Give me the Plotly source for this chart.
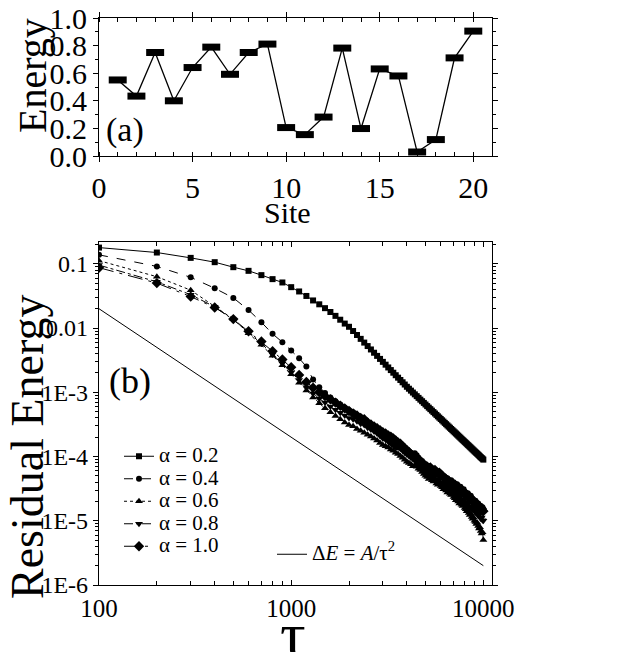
import plotly.graph_objects as go

# ---------------- data ----------------
sites = list(range(1, 21))
site_energy = [0.551, 0.434, 0.750, 0.400, 0.641, 0.789, 0.592, 0.750, 0.811, 0.206,
               0.155, 0.282, 0.782, 0.199, 0.631, 0.580, 0.029, 0.119, 0.711, 0.905]

tau = list(range(100, 10001, 100))

# log10 of residual energy at tau = 100, 200, ..., 10000
log_res_a02 = [
    -0.747, -0.824, -0.907, -0.974, -1.052, -1.109, -1.176, -1.238, -1.290, -1.363,
    -1.430, -1.500, -1.570, -1.630, -1.690, -1.750, -1.810, -1.870, -1.930, -1.980,
    -2.046, -2.108, -2.168, -2.226, -2.280, -2.333, -2.384, -2.433, -2.480, -2.526,
    -2.570, -2.613, -2.654, -2.695, -2.734, -2.772, -2.808, -2.844, -2.879, -2.914,
    -2.944, -2.974, -3.004, -3.032, -3.060, -3.087, -3.114, -3.139, -3.165, -3.190,
    -3.215, -3.239, -3.262, -3.285, -3.308, -3.330, -3.352, -3.374, -3.395, -3.416,
    -3.436, -3.456, -3.476, -3.496, -3.515, -3.534, -3.552, -3.571, -3.589, -3.607,
    -3.624, -3.641, -3.658, -3.675, -3.692, -3.708, -3.725, -3.741, -3.756, -3.772,
    -3.787, -3.802, -3.818, -3.832, -3.847, -3.861, -3.876, -3.890, -3.904, -3.918,
    -3.931, -3.945, -3.958, -3.971, -3.984, -3.998, -4.010, -4.023, -4.035, -4.048]

log_res_a04 = [
    -0.86, -1.04, -1.21, -1.38, -1.53, -1.72, -1.91, -2.09, -2.22, -2.35,
    -2.47, -2.60, -2.80, -2.92, -3.01, -3.08, -3.14, -3.19, -3.24, -3.28,
    -3.31, -3.36, -3.39, -3.44, -3.47, -3.52, -3.54, -3.59, -3.62, -3.66,
    -3.70, -3.74, -3.79, -3.82, -3.85, -3.86, -3.85, -3.87, -3.90, -3.92,
    -3.93, -3.94, -3.96, -3.95, -3.98, -4.02, -4.05, -4.07, -4.10, -4.12,
    -4.14, -4.15, -4.19, -4.20, -4.22, -4.21, -4.25, -4.27, -4.28, -4.30,
    -4.31, -4.30, -4.33, -4.35, -4.34, -4.37, -4.38, -4.37, -4.40, -4.40,
    -4.42, -4.44, -4.43, -4.46, -4.48, -4.47, -4.50, -4.52, -4.51, -4.55,
    -4.56, -4.58, -4.57, -4.60, -4.62, -4.61, -4.65, -4.66, -4.68, -4.70,
    -4.69, -4.72, -4.74, -4.73, -4.76, -4.78, -4.77, -4.80, -4.79, -4.82]

log_res_a06 = [
    -0.95, -1.20, -1.41, -1.66, -1.86, -2.08, -2.26, -2.43, -2.58, -2.72,
    -2.85, -2.97, -3.08, -3.17, -3.25, -3.31, -3.37, -3.42, -3.47, -3.51,
    -3.53, -3.57, -3.60, -3.63, -3.66, -3.69, -3.72, -3.75, -3.79, -3.82,
    -3.84, -3.86, -3.89, -3.91, -3.94, -3.96, -3.99, -4.02, -4.05, -4.08,
    -4.10, -4.12, -4.15, -4.14, -4.16, -4.19, -4.21, -4.24, -4.27, -4.30,
    -4.32, -4.35, -4.33, -4.37, -4.39, -4.38, -4.42, -4.44, -4.43, -4.46,
    -4.48, -4.51, -4.49, -4.53, -4.56, -4.54, -4.58, -4.60, -4.59, -4.63,
    -4.65, -4.68, -4.66, -4.70, -4.73, -4.71, -4.75, -4.77, -4.76, -4.80,
    -4.82, -4.85, -4.83, -4.88, -4.91, -4.89, -4.94, -4.97, -4.95, -5.00,
    -5.02, -5.05, -5.03, -5.08, -5.12, -5.10, -5.16, -5.20, -5.18, -5.30]

log_res_a08 = [
    -1.02, -1.28, -1.48, -1.67, -1.87, -2.07, -2.24, -2.41, -2.55, -2.69,
    -2.81, -2.92, -3.02, -3.10, -3.16, -3.22, -3.27, -3.32, -3.36, -3.40,
    -3.42, -3.45, -3.49, -3.51, -3.55, -3.58, -3.61, -3.64, -3.68, -3.72,
    -3.74, -3.77, -3.78, -3.80, -3.83, -3.85, -3.88, -3.91, -3.94, -3.97,
    -3.99, -4.02, -4.04, -4.06, -4.10, -4.12, -4.14, -4.17, -4.19, -4.22,
    -4.24, -4.27, -4.26, -4.30, -4.32, -4.31, -4.35, -4.37, -4.36, -4.40,
    -4.42, -4.44, -4.43, -4.47, -4.49, -4.48, -4.51, -4.53, -4.52, -4.55,
    -4.57, -4.59, -4.58, -4.62, -4.64, -4.63, -4.67, -4.69, -4.68, -4.72,
    -4.73, -4.75, -4.74, -4.77, -4.79, -4.78, -4.81, -4.83, -4.82, -4.85,
    -4.87, -4.86, -4.89, -4.92, -4.90, -4.94, -4.97, -4.95, -4.99, -5.00]

log_res_a10 = [
    -1.06, -1.30, -1.51, -1.68, -1.86, -2.05, -2.21, -2.36, -2.49, -2.61,
    -2.73, -2.84, -2.93, -3.00, -3.06, -3.11, -3.16, -3.21, -3.25, -3.29,
    -3.33, -3.36, -3.40, -3.42, -3.47, -3.50, -3.53, -3.56, -3.59, -3.62,
    -3.64, -3.67, -3.69, -3.72, -3.75, -3.78, -3.80, -3.84, -3.87, -3.90,
    -3.93, -3.97, -3.99, -4.02, -4.05, -4.07, -4.09, -4.11, -4.13, -4.15,
    -4.16, -4.18, -4.17, -4.20, -4.22, -4.21, -4.24, -4.26, -4.25, -4.28,
    -4.30, -4.32, -4.34, -4.35, -4.37, -4.39, -4.40, -4.42, -4.43, -4.45,
    -4.46, -4.48, -4.47, -4.50, -4.52, -4.51, -4.54, -4.56, -4.55, -4.58,
    -4.60, -4.61, -4.63, -4.62, -4.65, -4.67, -4.66, -4.69, -4.70, -4.72,
    -4.74, -4.73, -4.76, -4.78, -4.77, -4.80, -4.82, -4.81, -4.84, -4.85]

fit_tau = [100, 10000]
fit_energy = [2e-2, 2e-6]

alpha_labels = ["α = 0.2", "α = 0.4", "α = 0.6", "α = 0.8", "α = 1.0"]
y_tick_vals = [1e-6, 1e-5, 1e-4, 1e-3, 1e-2, 1e-1]
y_tick_text = ["1E-6", "1E-5", "1E-4", "1E-3", "0.01", "0.1"]

# ---------------- layout helpers ----------------
# page body has an 8px margin, so the figure is drawn 8px right/down
OFF = 8
W, H = 613, 644
ML, MT = 99 - OFF, 18 - OFF
PW, PH = 393, 567
MR, MB = W - ML - PW, H - MT - PH


def px_x(sx):
    """screen x pixel -> paper x"""
    return (sx - OFF - ML) / PW


def px_y(sy):
    """screen y pixel -> paper y"""
    return (MT + PH - (sy - OFF)) / PH


FONT = "Liberation Serif"
top_dom = [px_y(156), px_y(18)]
bot_dom = [px_y(585), px_y(242)]

fig = go.Figure()

# ---- panel (a)
fig.add_trace(go.Scatter(x=sites, y=site_energy, mode="lines",
                         line=dict(color="black", width=1.3),
                         xaxis="x", yaxis="y", showlegend=False, hoverinfo="skip"))
half = 0.48
bx, by = [], []
for s, e in zip(sites, site_energy):
    bx += [s - half, s + half, None]
    by += [e, e, None]
fig.add_trace(go.Scatter(x=bx, y=by, mode="lines",
                         line=dict(color="black", width=7),
                         xaxis="x", yaxis="y", showlegend=False, hoverinfo="skip"))

# ---- panel (b)
series = [log_res_a02, log_res_a04, log_res_a06, log_res_a08, log_res_a10]
dashes = ["solid", "dash", "dot", "dashdot", "longdashdot"]
symbols = ["square", "circle", "triangle-up", "triangle-down", "diamond"]
sizes = [6, 6, 7, 7, 8]
for lab, s, d, sym, sz in zip(alpha_labels, series, dashes, symbols, sizes):
    fig.add_trace(go.Scatter(
        x=tau, y=[10 ** v for v in s], mode="lines+markers",
        name="<span style='font-size:21px'>" + lab + "</span>",
        line=dict(color="black", width=1, dash=d),
        marker=dict(color="black", symbol=sym, size=sz),
        xaxis="x2", yaxis="y2", legend="legend"))

fig.add_trace(go.Scatter(
    x=fit_tau, y=fit_energy, mode="lines",
    name="<span style='font-size:21px'>Δ<i>E</i> = <i>A</i>/τ<sup>2</sup></span>",
    line=dict(color="black", width=1), xaxis="x2", yaxis="y2", legend="legend2"))

axis_common = dict(showline=True, linecolor="black", linewidth=1.2, mirror="ticks",
                   ticks="outside", ticklen=5, tickwidth=1, tickcolor="black",
                   showgrid=False, zeroline=False, ticklabeloverflow="allow",
                   automargin=False)

fig.update_layout(
    width=W, height=H, margin=dict(l=ML, r=MR, t=MT, b=MB, autoexpand=False),
    paper_bgcolor="white", plot_bgcolor="white",
    font=dict(family=FONT, color="black"),
    xaxis=dict(**axis_common, domain=[0, 1], anchor="y", range=[0, 21],
               tickmode="array", tickvals=[0, 5, 10, 15, 20],
               tickfont=dict(size=30, family=FONT), ticklabelstandoff=0,
               minor=dict(dtick=1, ticks="inside", ticklen=4, tickcolor="black", showgrid=False)),
    yaxis=dict(**axis_common, domain=top_dom, anchor="x", range=[0, 1.0],
               tickmode="array", tickvals=[0, 0.2, 0.4, 0.6, 0.8, 1.0],
               ticktext=["0.0", "0.2", "0.4", "0.6", "0.8", "1.0"],
               tickfont=dict(size=30, family=FONT),
               minor=dict(dtick=0.1, ticks="outside", ticklen=3, tickcolor="black", showgrid=False)),
    xaxis2=dict(**{**axis_common, "ticks": "inside"}, domain=[0, 1], anchor="y2", type="log",
                range=[2, 4.045], tickmode="array", tickvals=[100, 1000, 10000],
                ticktext=["100", "1000", "10000"],
                tickfont=dict(size=25, family=FONT), ticklabelstandoff=1,
                minor=dict(ticks="inside", ticklen=4, tickcolor="black", dtick="D1",
                           showgrid=False)),
    yaxis2=dict(**axis_common, domain=bot_dom, anchor="x2", type="log",
                range=[-6, -0.66], tickmode="array", tickvals=y_tick_vals,
                ticktext=y_tick_text, tickfont=dict(size=24, family=FONT),
                minor=dict(ticks="outside", ticklen=3, tickcolor="black", dtick="D1",
                           showgrid=False)),
    legend=dict(x=px_x(119), y=px_y(440), xanchor="left", yanchor="top",
                bgcolor="rgba(0,0,0,0)", font=dict(size=15, family=FONT),
                itemwidth=30, tracegroupgap=0),
    legend2=dict(x=px_x(272), y=px_y(538), xanchor="left", yanchor="top",
                 bgcolor="rgba(0,0,0,0)", font=dict(size=15, family=FONT),
                 itemwidth=30),
)

ann = [
    dict(text="(a)", x=px_x(104), y=px_y(130), xanchor="left", yanchor="middle", size=34),
    dict(text="(b)", x=px_x(107), y=px_y(381), xanchor="left", yanchor="middle", size=36),
    dict(text="Energy", x=px_x(32), y=px_y(76), xanchor="center", yanchor="middle",
         size=40, angle=-90),
    dict(text="Site", x=px_x(287), y=px_y(212), xanchor="center", yanchor="middle", size=30),
    dict(text="Residual Energy", x=px_x(27), y=px_y(447), xanchor="center",
         yanchor="middle", size=46, angle=-90),
    dict(text="τ", x=px_x(293), y=px_y(634), xanchor="center", yanchor="middle", size=64),
]
for a in ann:
    fig.add_annotation(text=a["text"], x=a["x"], y=a["y"], xref="paper", yref="paper",
                       xanchor=a["xanchor"], yanchor=a["yanchor"], showarrow=False,
                       textangle=a.get("angle", 0),
                       font=dict(size=a["size"], family=FONT, color="black"))

fig.write_html("out.html")
